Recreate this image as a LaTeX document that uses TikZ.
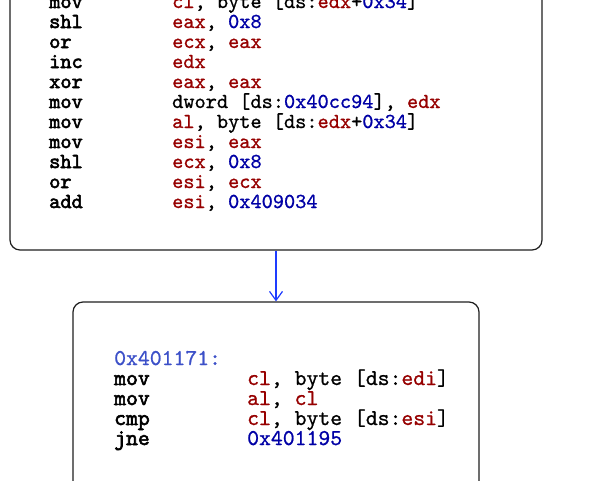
\documentclass[tikz,border=0pt]{standalone}
\usepackage{fontspec}
\newfontfamily\codefont{lmmono10-regular.otf}[FakeBold=0.9]
\newfontfamily\mnemfont{lmmono10-regular.otf}[FakeBold=2.6]
\usetikzlibrary{arrows.meta}
\definecolor{regc}{RGB}{150,0,0}
\definecolor{numc}{RGB}{0,0,165}
\definecolor{labc}{RGB}{60,80,200}
\definecolor{arrc}{RGB}{30,60,255}
\definecolor{boxc}{RGB}{30,30,30}
\newcommand\cR[1]{\textcolor{regc}{#1}}
\newcommand\cN[1]{\textcolor{numc}{#1}}
\begin{document}
\begin{tikzpicture}[x=1pt,y=-1pt,
  blockbox/.style={draw=boxc,line width=1.2pt,rounded corners=10pt,inner sep=0pt},
  topcode/.style={anchor=base west,inner sep=0pt,font=\codefont\fontsize{21.3}{20}\selectfont},
  botcode/.style={anchor=base west,inner sep=0pt,font=\codefont\fontsize{22.6}{20}\selectfont},
  topmnem/.style={anchor=base west,inner sep=0pt,font=\mnemfont\fontsize{21.3}{20}\selectfont},
  botmnem/.style={anchor=base west,inner sep=0pt,font=\mnemfont\fontsize{22.6}{20}\selectfont},
  flow/.style={draw=arrc,line width=1.2pt,-{Straight Barb[length=9pt,width=13pt,line width=1.2pt]}}]
\useasboundingbox (0,0) rectangle (613,480);
\node[blockbox,minimum width=532pt,minimum height=290pt] (top) at (276,105) {};
\node[blockbox,minimum width=406pt,minimum height=220pt] (bot) at (276,412) {};
\draw[flow] (top.south) -- (bot.north);
% top block
\node[topmnem] (m0) at (49,8) {mov};
\node[topcode] (o0) at (172,8) {\cR{cl}, byte [ds:\cR{edx}+\cN{0x34}]};
\node[topmnem] (m1) at (49,28) {shl};
\node[topcode] (o1) at (172,28) {\cR{eax}, \cN{0x8}};
\node[topmnem] (m2) at (49,48) {or};
\node[topcode] (o2) at (172,48) {\cR{ecx}, \cR{eax}};
\node[topmnem] (m3) at (49,68) {inc};
\node[topcode] (o3) at (172,68) {\cR{edx}};
\node[topmnem] (m4) at (49,88) {xor};
\node[topcode] (o4) at (172,88) {\cR{eax}, \cR{eax}};
\node[topmnem] (m5) at (49,108) {mov};
\node[topcode] (o5) at (172,108) {dword [ds:\cN{0x40cc94}], \cR{edx}};
\node[topmnem] (m6) at (49,128) {mov};
\node[topcode] (o6) at (172,128) {\cR{al}, byte [ds:\cR{edx}+\cN{0x34}]};
\node[topmnem] (m7) at (49,148) {mov};
\node[topcode] (o7) at (172,148) {\cR{esi}, \cR{eax}};
\node[topmnem] (m8) at (49,168) {shl};
\node[topcode] (o8) at (172,168) {\cR{ecx}, \cN{0x8}};
\node[topmnem] (m9) at (49,188) {or};
\node[topcode] (o9) at (172,188) {\cR{esi}, \cR{ecx}};
\node[topmnem] (m10) at (49,208) {add};
\node[topcode] (o10) at (172,208) {\cR{esi}, \cN{0x409034}};
% bottom block
\node[botcode,text=labc] (lab) at (114,365) {0x401171:};
\node[botmnem] (n1) at (114,385) {mov};
\node[botcode] (p1) at (247,385) {\cR{cl}, byte [ds:\cR{edi}]};
\node[botmnem] (n2) at (114,405) {mov};
\node[botcode] (p2) at (247,405) {\cR{al}, \cR{cl}};
\node[botmnem] (n3) at (114,425) {cmp};
\node[botcode] (p3) at (247,425) {\cR{cl}, byte [ds:\cR{esi}]};
\node[botmnem] (n4) at (114,445) {jne};
\node[botcode] (p4) at (247,445) {\cN{0x401195}};
\end{tikzpicture}
\end{document}
